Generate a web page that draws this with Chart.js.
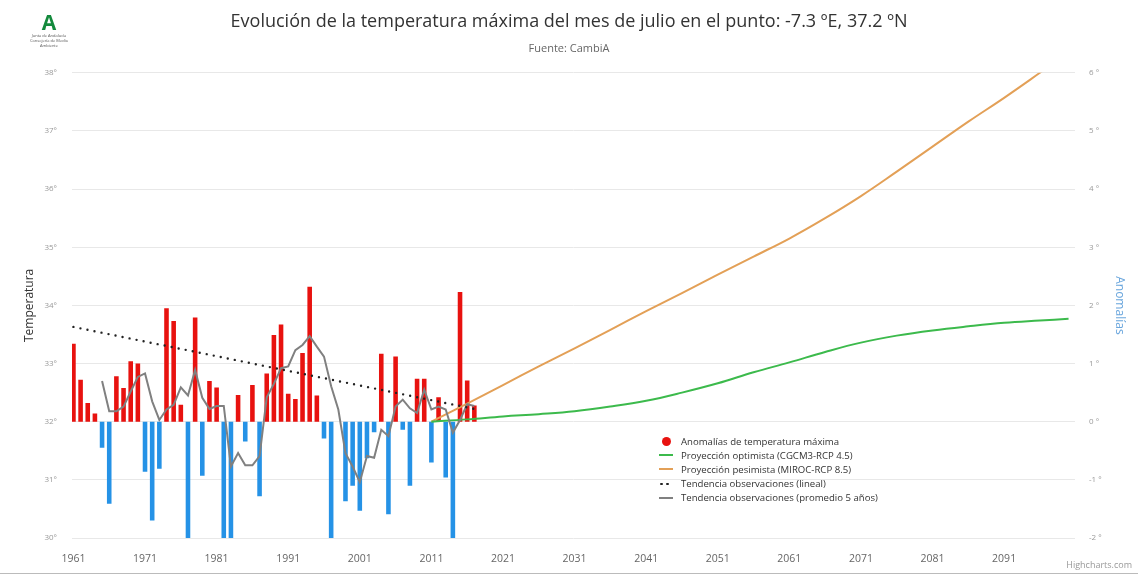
<!DOCTYPE html>
<html lang="es">
<head>
<meta charset="utf-8">
<title>Temperatura máxima julio</title>
<script src="https://cdn.jsdelivr.net/npm/chart.js@4/dist/chart.umd.min.js"></script>
<style>
  body { margin: 0; background: #fff; font-family: "Open Sans", sans-serif; }
  #wrap { position: relative; width: 1138px; height: 574px; box-shadow: inset 0 -1px 0 #bbb; }
  #logo { position: absolute; left: 28px; top: 12px; width: 42px; text-align: center; }
  #logo .a { color: #138a3c; font: bold 21px "Open Sans", sans-serif; line-height: 21px; }
  #logo .t { color: #555; font-size: 4px; line-height: 5px; }
  #legend { position: absolute; left: 654px; top: 434px; font-size: 9.6px; color: #333; }
  #legend .row { height: 14.2px; display: flex; align-items: center; white-space: nowrap; }
  #legend .sym { width: 24px; height: 10px; position: relative; margin-right: 3px; }
  #credits { position: absolute; right: 6px; bottom: 3px; font-size: 9px; color: #999; }
</style>
</head>
<body>
<div id="wrap">
  <canvas id="chart" width="1138" height="574"></canvas>
  <div id="logo"><div class="a">A</div><div class="t">Junta de Andalucía</div><div class="t">Consejería de Medio Ambiente</div></div>
  <div id="legend"></div>
  <div id="credits">Highcharts.com</div>
</div>
<script>
// Años con observaciones (1961-2017)
const obsYears = Array.from({ length: 57 }, (_, i) => 1961 + i);

// Anomalías de temperatura máxima (ºC), una por año
const anomalias = [
  1.34, 0.72, 0.32, 0.14, -0.45, -1.41, 0.78, 0.58, 1.04, 1.00,
  -0.86, -1.70, -0.81, 1.95, 1.73, 0.29, -2.10, 1.79, -0.93, 0.70,
  0.59, -2.10, -2.10, 0.46, -0.34, 0.63, -1.28, 0.83, 1.49, 1.67,
  0.48, 0.39, 1.18, 2.32, 0.45, -0.29, -2.10, 0.00, -1.37, -1.10,
  -1.53, -0.63, -0.18, 1.17, -1.59, 1.12, -0.14, -1.10, 0.74, 0.74,
  -0.70, 0.42, -0.96, -2.10, 2.23, 0.71, 0.28
];

// Promedio 5 años (1965-2017)
const mediaYears = Array.from({ length: 53 }, (_, i) => 1965 + i);
const media5 = [
  0.70, 0.18, 0.18, 0.26, 0.52, 0.77, 0.83, 0.35, 0.03, 0.21,
  0.29, 0.59, 0.45, 0.89, 0.41, 0.22, 0.27, 0.27, -0.77, -0.54,
  -0.75, -0.75, -0.59, 0.42, 0.65, 0.92, 0.95, 1.23, 1.32, 1.47,
  1.29, 1.12, 0.61, 0.21, -0.54, -0.77, -1.04, -0.59, -0.62, -0.14,
  -0.25, 0.26, 0.38, 0.23, 0.15, 0.55, 0.21, 0.26, 0.21, -0.19,
  0.03, 0.30, 0.27
];

// Tendencia lineal (extremos)
const tendYears = [1961, 2017];
const tendencia = [1.63, 0.22];

// Proyecciones
const projYears = [2011, 2016, 2021, 2026, 2031, 2036, 2041, 2046, 2051, 2056, 2061, 2066, 2071, 2076, 2081, 2086, 2091, 2096, 2100];
const optimista = [0.00, 0.04, 0.09, 0.13, 0.18, 0.26, 0.36, 0.50, 0.66, 0.85, 1.02, 1.20, 1.36, 1.48, 1.57, 1.64, 1.70, 1.74, 1.77];
const pesimista = [0.00, 0.31, 0.63, 0.95, 1.26, 1.58, 1.90, 2.21, 2.53, 2.84, 3.15, 3.50, 3.88, 4.30, 4.73, 5.16, 5.57, 6.00, 6.35];

// Ticks
const xTicks = [1961, 1971, 1981, 1991, 2001, 2011, 2021, 2031, 2041, 2051, 2061, 2071, 2081, 2091];

const FONT = '"Open Sans", sans-serif';
const pts = (xs, ys) => xs.map((x, i) => ({ x: x, y: ys[i] }));

const ctx = document.getElementById('chart').getContext('2d');
const chart = new Chart(ctx, {
  type: 'bar',
  data: {
    datasets: [
      {
        type: 'bar',
        label: 'Anomalías de temperatura máxima',
        data: pts(obsYears, anomalias),
        yAxisID: 'y1',
        backgroundColor: anomalias.map(v => v >= 0 ? '#e8120f' : '#2592e6'),
        barPercentage: 0.8,
        categoryPercentage: 0.8,
        order: 5
      },
      {
        type: 'line',
        label: 'Proyección optimista (CGCM3-RCP 4.5)',
        data: pts(projYears, optimista),
        yAxisID: 'y1',
        borderColor: '#3cba4c',
        borderWidth: 2,
        pointRadius: 0,
        tension: 0.4,
        order: 2
      },
      {
        type: 'line',
        label: 'Proyección pesimista (MIROC-RCP 8.5)',
        data: pts(projYears, pesimista),
        yAxisID: 'y1',
        borderColor: '#e3a057',
        borderWidth: 2,
        pointRadius: 0,
        tension: 0.4,
        order: 2
      },
      {
        type: 'line',
        label: 'Tendencia observaciones (lineal)',
        data: pts(tendYears, tendencia),
        yAxisID: 'y1',
        borderColor: '#222',
        borderWidth: 2.4,
        borderDash: [0, 7.16],
        borderCapStyle: 'round',
        pointRadius: 0,
        order: 1
      },
      {
        type: 'line',
        label: 'Tendencia observaciones (promedio 5 años)',
        data: pts(mediaYears, media5),
        yAxisID: 'y1',
        borderColor: '#808080',
        borderWidth: 2,
        pointRadius: 0,
        tension: 0,
        order: 1
      }
    ]
  },
  options: {
    responsive: false,
    animation: false,
    devicePixelRatio: 1,
    layout: { padding: 0 },
    plugins: {
      legend: { display: false },
      tooltip: { enabled: false },
      title: {
        display: true,
        text: 'Evolución de la temperatura máxima del mes de julio en el punto: -7.3 ºE, 37.2 ºN',
        color: '#333',
        font: { family: FONT, size: 18, weight: 'normal' },
        padding: { top: 11, bottom: 10 }
      },
      subtitle: {
        display: true,
        text: 'Fuente: CambiA',
        color: '#666',
        font: { family: FONT, size: 11 },
        padding: { top: 0, bottom: 17 }
      }
    },
    scales: {
      x: {
        type: 'linear',
        min: 1960.8,
        max: 2100.9,
        offset: false,
        grid: { display: false, offset: false },
        border: { display: false },
        afterBuildTicks: (scale) => { scale.ticks = xTicks.map(v => ({ value: v })); },
        afterFit: (scale) => { scale.height = 36; },
        ticks: {
          color: '#666',
          font: { family: FONT, size: 10.5 },
          padding: 7,
          maxRotation: 0,
          autoSkip: false,
          callback: (v) => String(v)
        }
      },
      y: {
        position: 'left',
        min: 30,
        max: 38,
        afterFit: (scale) => { scale.width = 72; },
        grid: { color: '#e8e8e8', drawTicks: false },
        border: { display: false },
        ticks: {
          stepSize: 1,
          color: '#999',
          font: { family: FONT, size: 8 },
          padding: 15,
          callback: (v) => v + '°'
        },
        title: {
          display: true,
          text: 'Temperatura',
          color: '#333',
          font: { family: FONT, size: 12 },
          padding: { top: 22, bottom: 0 }
        }
      },
      y1: {
        position: 'right',
        min: -2,
        max: 6,
        afterFit: (scale) => { scale.width = 63; },
        grid: { display: false, drawTicks: false },
        border: { display: false },
        ticks: {
          stepSize: 1,
          color: '#999',
          font: { family: FONT, size: 8 },
          padding: 14,
          callback: (v) => v + ' °'
        },
        title: {
          display: true,
          text: 'Anomalías',
          color: '#6aa6dd',
          font: { family: FONT, size: 12 },
          padding: { top: 11, bottom: 0 }
        }
      }
    }
  }
});

// Leyenda dentro del área del gráfico
const legend = document.getElementById('legend');
const symbols = ['dot', 'line', 'line', 'dots', 'line'];
chart.data.datasets.forEach((ds, i) => {
  const row = document.createElement('div');
  row.className = 'row';
  const sym = document.createElement('span');
  sym.className = 'sym';
  const kind = symbols[i];
  if (kind === 'dot') {
    sym.innerHTML = '<span style="position:absolute;left:8px;top:0.5px;width:9px;height:9px;border-radius:50%;background:#e8120f"></span>';
  } else if (kind === 'dots') {
    sym.innerHTML = '<span style="position:absolute;left:6px;top:4px;width:2.5px;height:2.5px;border-radius:50%;background:#222"></span>' +
                    '<span style="position:absolute;left:12px;top:4px;width:2.5px;height:2.5px;border-radius:50%;background:#222"></span>';
  } else {
    sym.innerHTML = '<span style="position:absolute;left:5px;top:4px;width:14px;height:2px;background:' + ds.borderColor + '"></span>';
  }
  const txt = document.createElement('span');
  txt.textContent = ds.label;
  row.appendChild(sym);
  row.appendChild(txt);
  legend.appendChild(row);
});
</script>
</body>
</html>
